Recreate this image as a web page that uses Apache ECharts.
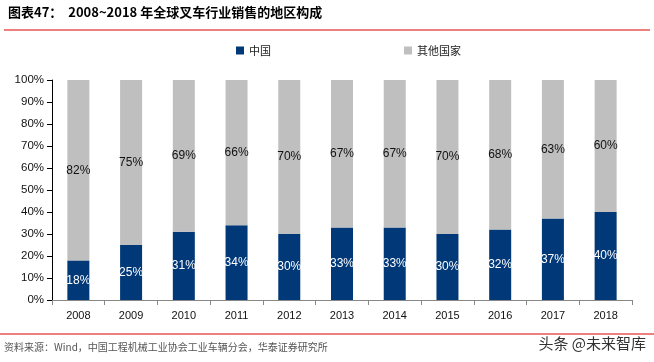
<!DOCTYPE html>
<html><head><meta charset="utf-8">
<script src="https://cdn.jsdelivr.net/npm/echarts@6/dist/echarts.min.js"></script>
<style>html,body{margin:0;padding:0;background:#fff}#c{width:654px;height:362px}</style>
</head><body><div id="c"></div>
<script>
const categories = ['2008','2009','2010','2011','2012','2013','2014','2015','2016','2017','2018'];
const china = [18,25,31,34,30,33,33,30,32,37,40];
const others = [82,75,69,66,70,67,67,70,68,63,60];
const yTicks = [0,10,20,30,40,50,60,70,80,90,100];

const chart = echarts.init(document.getElementById('c'));
const cjk = '"Noto Sans CJK SC", sans-serif';
chart.setOption({
  animation:false,
  grid:{left:52,right:22,top:80,bottom:62},
  legend:{
    top:40, left:231, itemGap:133, itemWidth:8, itemHeight:8, icon:'rect',
    textStyle:{fontFamily:cjk,fontSize:11,color:'#222'},
    data:['中国','其他国家']
  },
  xAxis:{type:'category',data:categories,
    axisLine:{lineStyle:{color:'#888'}},
    axisTick:{show:true,alignWithLabel:false,lineStyle:{color:'#888'}},
    axisLabel:{color:'#111',fontFamily:'"Liberation Sans", Arial',fontSize:11,margin:10}},
  yAxis:{type:'value',min:0,max:100,interval:10,
    splitLine:{show:false},
    axisLine:{show:true,lineStyle:{color:'#000'}},
    axisTick:{show:true,lineStyle:{color:'#000'}},
    axisLabel:{color:'#111',fontFamily:'"Liberation Sans", Arial',fontSize:11.5,formatter:v=>v+'%'}},
  series:[
    {name:'中国',type:'bar',stack:'s',data:china,barWidth:22,
      itemStyle:{color:'#003878'},
      label:{show:true,position:'inside',color:'#fff',fontFamily:'"Liberation Sans", Arial',fontSize:12,formatter:p=>p.value+'%'}},
    {name:'其他国家',type:'bar',stack:'s',data:others,barWidth:22,
      itemStyle:{color:'#BFBFBF'},
      label:{show:true,position:'inside',color:'#111',fontFamily:'"Liberation Sans", Arial',fontSize:12,formatter:p=>p.value+'%'}}
  ],
  graphic:[
    {type:'text',left:8,top:6,style:{text:'图表47：  2008~2018 年全球叉车行业销售的地区构成',font:'bold 13px "Noto Sans CJK SC", sans-serif',fill:'#000'}},
    {type:'line',shape:{x1:4,y1:30,x2:650,y2:30},style:{stroke:'#d00',lineWidth:1}},
    {type:'line',shape:{x1:0,y1:334,x2:654,y2:334},style:{stroke:'#d00',lineWidth:1}},
    {type:'text',left:4,top:342,style:{text:'资料来源：Wind，中国工程机械工业协会工业车辆分会，华泰证券研究所',font:'10px "Noto Sans CJK SC", sans-serif',fill:'#555'}},
    {type:'text',right:8,top:336,style:{text:'头条 @未来智库',font:'15px "Noto Sans CJK SC", sans-serif',fill:'#333'}}
  ]
});
</script></body></html>
